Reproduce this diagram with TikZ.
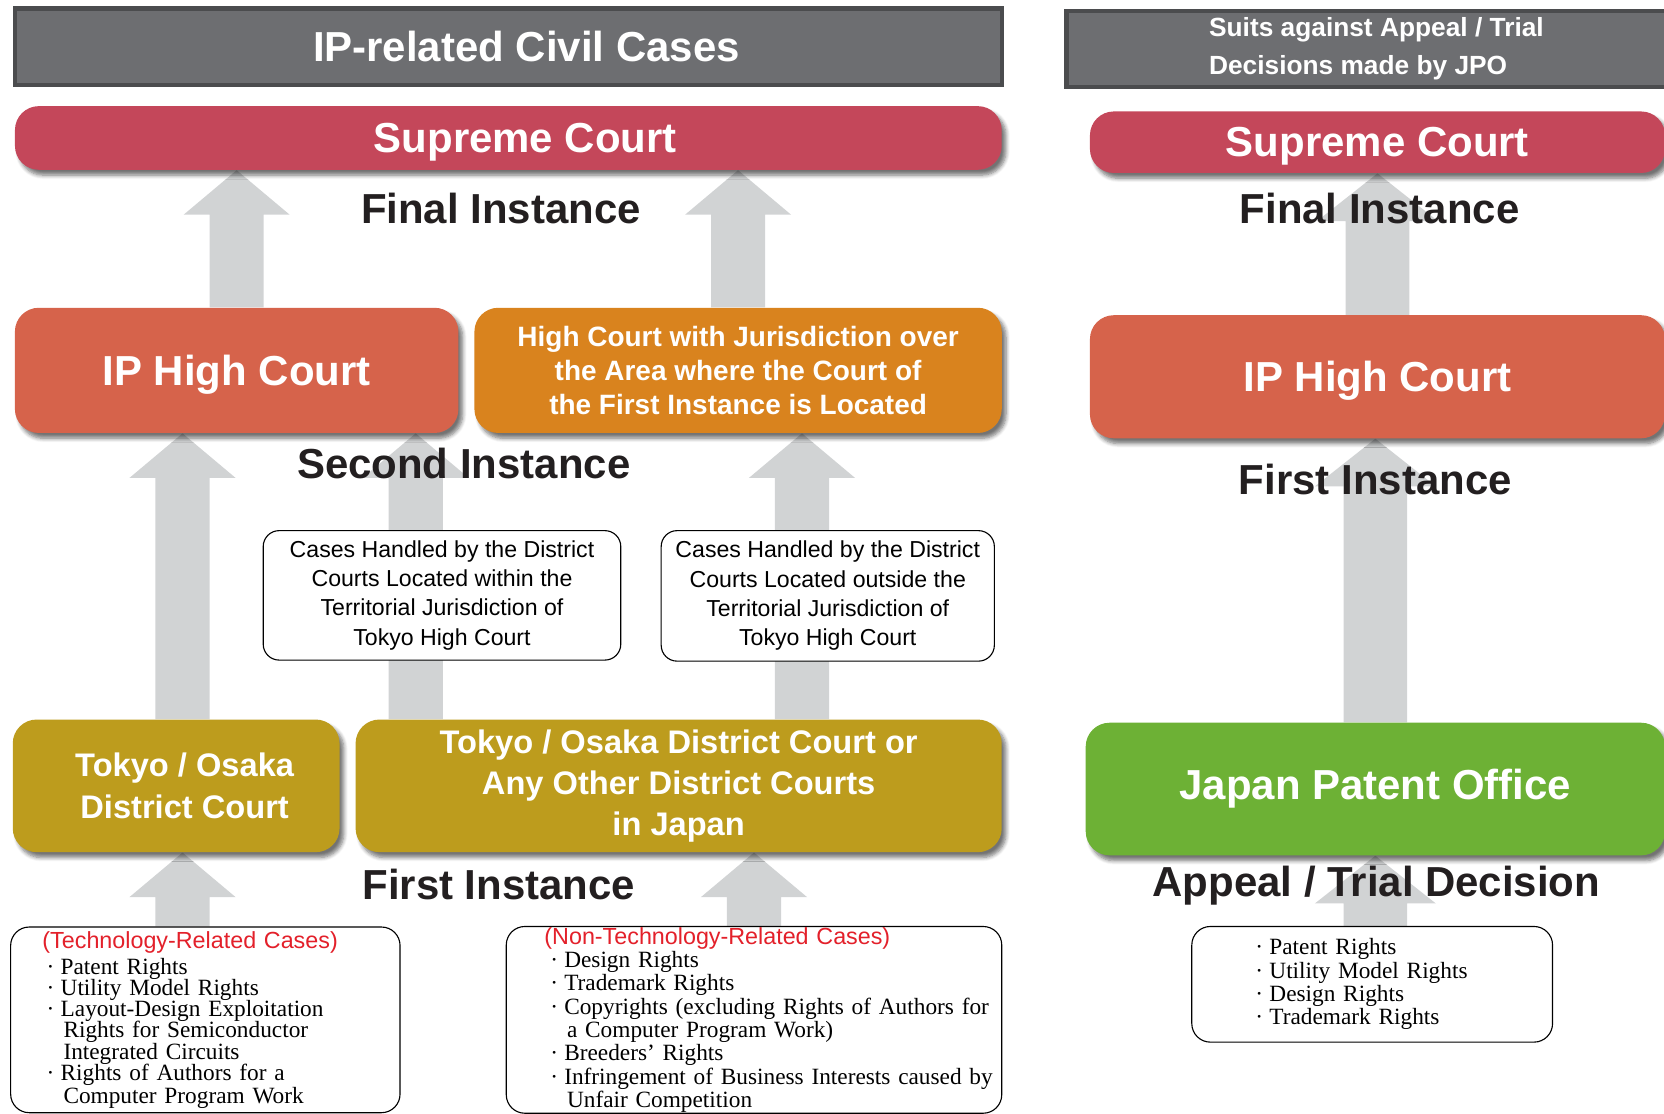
\documentclass[tikz,border=0pt]{standalone}
\usepackage{fontspec}
\setmainfont{Liberation Sans}
\newfontfamily\serifl{Liberation Serif}
\usepackage{xcolor}
\usetikzlibrary{calc}
\usetikzlibrary{shadows.blur}
\definecolor{bannergray}{HTML}{6D6E71}
\definecolor{bannerdark}{HTML}{4B4C4E}
\definecolor{supremered}{HTML}{C4475A}
\definecolor{ipred}{HTML}{D6634B}
\definecolor{highorange}{HTML}{D9831E}
\definecolor{districtgold}{HTML}{BD9C1D}
\definecolor{jpogreen}{HTML}{6DB135}
\definecolor{arrowgray}{HTML}{D1D3D4}
\definecolor{inkdark}{HTML}{231F20}
\definecolor{casered}{HTML}{E3202A}
\pgfdeclarelayer{background}
\pgfsetlayers{background,main}
\newlength{\bulletgap}
\tikzset{
	banner/.style={fill=bannergray, draw=bannerdark, line width=0.08cm, text=white,
			font=\bfseries\fontsize{22.5}{27}\selectfont, align=center, inner sep=0pt},
	court/.style={rounded corners=0.45cm, fill=#1, text=white, align=center, inner sep=0pt,
			font=\bfseries\fontsize{22.5}{27}\selectfont,
			blur shadow={shadow xshift=0.08cm, shadow yshift=-0.1cm, shadow blur steps=6, shadow opacity=55}},
	stage/.style={text=inkdark, font=\bfseries\fontsize{22.5}{27}\selectfont, inner sep=1pt},
	casebox/.style={draw=black, line width=0.6pt, rounded corners=0.3cm, fill=white, align=center,
			font=\fontsize{12.4}{15.7}\selectfont, inner sep=0pt},
	listbox/.style={draw=black, line width=0.6pt, rounded corners=0.35cm, fill=white, align=left, inner sep=0pt,
			font=\serifl\fontsize{12.5}{#1}\selectfont}
}
\newcommand{\liftarrow}[5]{\fill[arrowgray] ($(#1)+(-#3,0)$) -- ($(#2)+(-#3,#5)$) -- ($(#2)+(-#4,#5)$) -- (#2)
	-- ($(#2)+(#4,#5)$) -- ($(#2)+(#3,#5)$) -- ($(#1)+(#3,0)$) -- cycle;}
\newcommand{\listsetup}[1]{\lineskiplimit=-20pt\relax\setlength{\bulletgap}{#1}}
\newcommand{\dotline}[1]{\mbox{\hspace*{\bulletgap}\makebox[0.6em][l]{·}#1}}
\newcommand{\contline}[1]{\mbox{\hspace*{\bulletgap}\hspace*{0.72em}#1}}

\begin{document}
\begin{tikzpicture}[x=0.02cm, y=-0.02cm]
	\useasboundingbox (0,0) rectangle (1568,1049);

	\node[banner, minimum width=18.6cm, minimum height=1.44cm] (hdrL) at (479,44) {\hspace*{0.68cm}IP-related Civil Cases};
	\node[court=supremered, text depth=0pt, minimum width=18.6cm, minimum height=1.2cm] (scL) at (479,130) {\hspace*{0.64cm}Supreme Court};
	\node[stage] (finalL) at (472,196) {Final Instance};
	\node[court=ipred, text depth=0pt, minimum width=8.36cm, minimum height=2.36cm] (ipcL) at (223,349) {IP High Court};
	\node[court=highorange, minimum width=9.94cm, minimum height=2.36cm, font=\bfseries\fontsize{15}{18.4}\selectfont]
		(hcoL) at (695.5,349) {High Court with Jurisdiction over\\the Area where the Court of\\the First Instance is Located};
	\node[stage] (secondL) at (437,437) {Second Instance};
	\node[casebox, minimum width=6.74cm, minimum height=2.44cm] (withinT) at (416.5,561)
		{Cases Handled by the District\\Courts Located within the\\Territorial Jurisdiction of\\Tokyo High Court};
	\node[casebox, minimum width=6.28cm, minimum height=2.46cm] (outsideT) at (780,561.5)
		{Cases Handled by the District\\Courts Located outside the\\Territorial Jurisdiction of\\Tokyo High Court};
	\node[court=districtgold, minimum width=6.16cm, minimum height=2.5cm, font=\bfseries\fontsize{17.5}{22.1}\selectfont]
		(tokyoDC) at (166,740.5) {\hspace*{0.32cm}Tokyo / Osaka\\\hspace*{0.32cm}District Court};
	\node[court=districtgold, minimum width=12.18cm, minimum height=2.5cm, font=\bfseries\fontsize{17.5}{22.1}\selectfont]
		(anyDC) at (639.5,740.5) {Tokyo / Osaka District Court or\\Any Other District Courts\\in Japan};
	\node[stage] (firstL) at (470,833) {First Instance};
	\node[listbox=11.3pt, minimum width=7.34cm, minimum height=3.5cm, text width=6.14cm]
		(techC) at (193.5,961) {\listsetup{0.08cm}{\rmfamily\color{casered}(Technology-Related Cases)}\\[0.1cm]
		\dotline{Patent Rights}\\
		\dotline{Utility Model Rights}\\
		\dotline{Layout-Design Exploitation}\\
		\contline{Rights for Semiconductor}\\
		\contline{Integrated Circuits}\\
		\dotline{Rights of Authors for a}\\
		\contline{Computer Program Work}};
	\node[listbox=12.5pt, minimum width=9.34cm, minimum height=3.52cm, text width=7.9cm]
		(nontechC) at (710.5,961) {\listsetup{0.11cm}{\rmfamily\color{casered}(Non-Technology-Related Cases)}\\
		\dotline{Design Rights}\\
		\dotline{Trademark Rights}\\
		\dotline{Copyrights (excluding Rights of Authors for}\\
		\contline{a Computer Program Work)}\\
		\dotline{Breeders’ Rights}\\
		\dotline{Infringement of Business Interests caused by}\\
		\contline{Unfair Competition}};

	\node[banner, minimum width=11.68cm, minimum height=1.44cm, align=left, font=\bfseries\fontsize{14.1}{20.4}\selectfont]
		(hdrR) at (1297,46) {Suits against Appeal / Trial\\Decisions made by JPO};
	\node[court=supremered, text depth=0pt, minimum width=10.84cm, minimum height=1.16cm] (scR) at (1298,134) {Supreme Court};
	\node[stage] (finalR) at (1300,196) {Final Instance};
	\node[court=ipred, text depth=0pt, minimum width=10.84cm, minimum height=2.32cm] (ipcR) at (1298,355) {IP High Court};
	\node[stage] (firstR) at (1296,452) {First Instance};
	\node[court=jpogreen, minimum width=10.92cm, minimum height=2.5cm] (jpo) at (1296,743.5) {Japan Patent Office};
	\node[stage] (decisionR) at (1297,835) {Appeal / Trial Decision};
	\node[listbox=12.5pt, minimum width=6.8cm, minimum height=2.18cm, text width=4.4cm]
		(rightsR) at (1293,927.5) {\listsetup{0pt}\dotline{Patent Rights}\\
		\dotline{Utility Model Rights}\\
		\dotline{Design Rights}\\
		\dotline{Trademark Rights}};

	\coordinate (upA) at ($(tokyoDC.north)+(6,0)$);
	\coordinate (upB) at ($(anyDC.north west)+(57,0)$);
	\coordinate (upC) at ($(anyDC.north west)+(421,0)$);

	\begin{pgfonlayer}{background}
		\liftarrow{ipcL.north}{ipcL.north |- scL.south}{25.5}{50}{42}
		\liftarrow{hcoL.north}{hcoL.north |- scL.south}{25.5}{50}{42}
		\liftarrow{upA}{upA |- ipcL.south}{25.5}{50}{42}
		\liftarrow{upB}{upB |- ipcL.south}{25.5}{50}{42}
		\liftarrow{upC}{upC |- hcoL.south}{25.5}{50}{42}
		\liftarrow{upA |- techC.north}{upA |- tokyoDC.south}{25.5}{50}{42}
		\liftarrow{nontechC.north}{nontechC.north |- anyDC.south}{25.5}{50}{42}
		\liftarrow{ipcR.north}{ipcR.north |- scR.south}{30}{57}{45}
		\liftarrow{jpo.north}{jpo.north |- ipcR.south}{30}{57}{45}
		\liftarrow{jpo.south |- rightsR.north}{jpo.south}{30}{57}{45}
	\end{pgfonlayer}
\end{tikzpicture}
\end{document}
